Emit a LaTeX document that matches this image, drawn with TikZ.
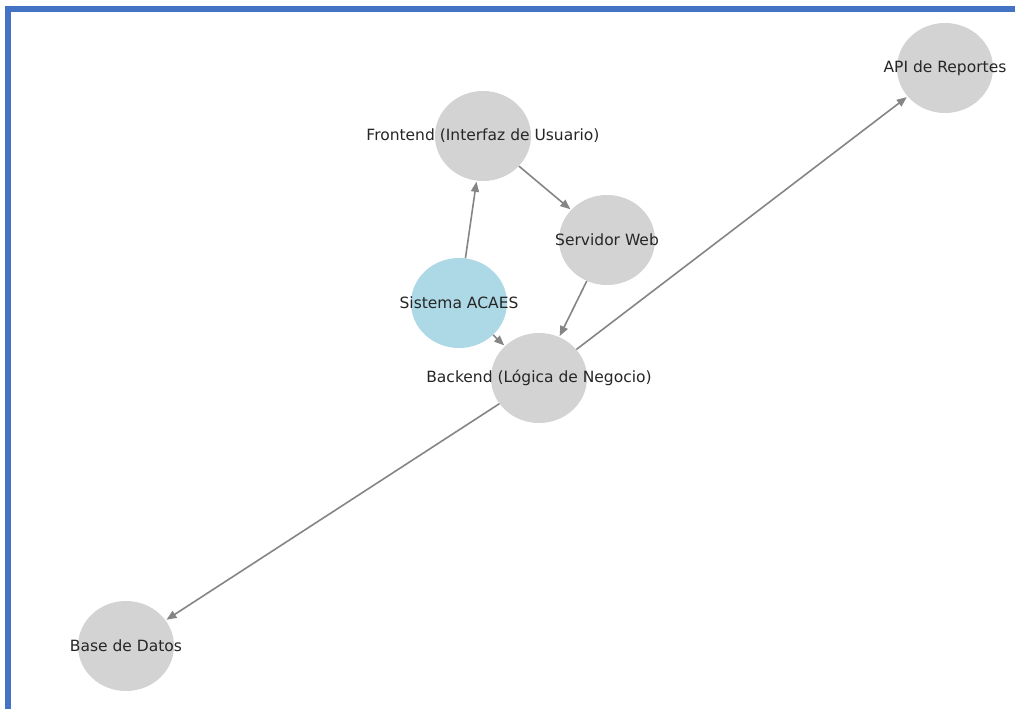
\documentclass[tikz,border=0pt]{standalone}
\usepackage{fontspec}
\setmainfont{DejaVu Sans}
\usetikzlibrary{arrows.meta,shapes.geometric}
\definecolor{frame}{HTML}{4472C4}
\definecolor{nodegray}{HTML}{D3D3D3}
\definecolor{nodeblue}{HTML}{ADD8E6}
\definecolor{edgegray}{HTML}{858585}

\begin{document}
\begin{tikzpicture}[x=1pt, y=-1pt,
  comp/.style={ellipse, fill=nodegray, minimum width=96pt, minimum height=90pt,
    inner sep=0pt, font=\fontsize{15.5}{18}\selectfont, text=black!85},
  root/.style={comp, fill=nodeblue},
  link/.style={draw=edgegray, line width=1.6pt, -{Triangle[length=10pt,width=8pt]}, shorten >=1pt}]
  \useasboundingbox (0, 0) rectangle (1015, 709);
  \fill[white] (0, 0) rectangle (1015, 709);
  \draw[frame, line width=6pt] (8, 712) -- (8, 9) -- (1018, 9);

  \node[comp] (api) at (945, 68) {\makebox[0pt]{API de Reportes}};
  \node[comp] (front) at (483, 136) {\makebox[0pt]{Frontend (Interfaz de Usuario)}};
  \node[comp] (web) at (607, 240) {\makebox[0pt]{Servidor Web}};
  \node[root] (sis) at (459, 303) {\makebox[0pt]{Sistema ACAES}};
  \node[comp] (back) at (539, 378) {\makebox[0pt]{Backend (Lógica de Negocio)}};
  \node[comp] (db) at (126, 646) {\makebox[0pt]{Base de Datos}};

  % connections
  \draw[link] (sis) -- (front);
  \draw[link] (front) -- (web);
  \draw[link] (web) -- (back);
  \draw[link] (sis) -- (back);
  \draw[link] (back) -- (api);
  \draw[link] (back) -- (db);
\end{tikzpicture}
\end{document}
